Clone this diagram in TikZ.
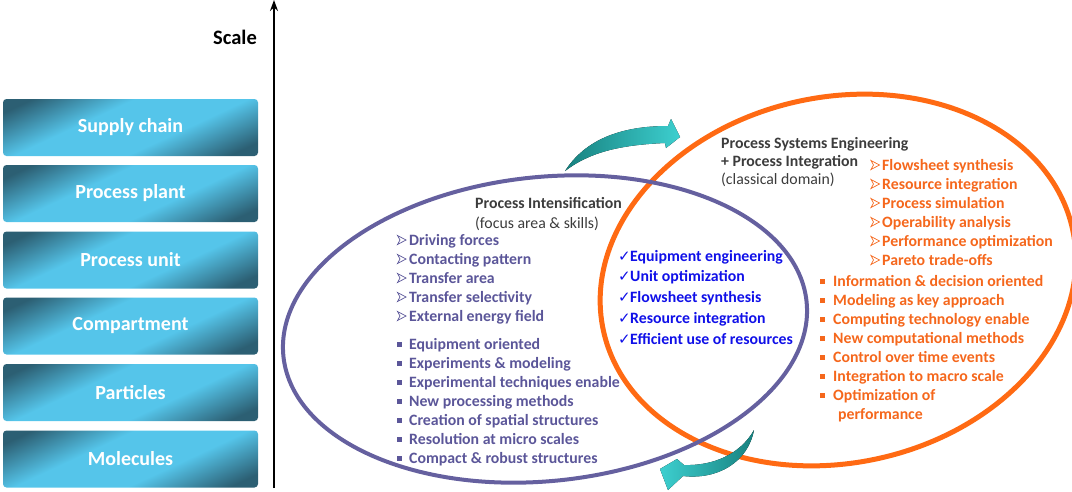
\documentclass[tikz,border=0pt]{standalone}
\usepackage{fontspec}
\setmainfont{Carlito}
\newfontfamily\symf{DejaVu Sans}
\usetikzlibrary{arrows.meta}
\definecolor{boxdark}{HTML}{2C5F73}
\definecolor{boxlight}{HTML}{55C5EA}
\definecolor{purp}{HTML}{65609F}
\definecolor{purptext}{HTML}{5B5699}
\definecolor{orng}{HTML}{FF6A13}
\definecolor{orngtext}{HTML}{F5671C}
\definecolor{bluetext}{HTML}{1010E8}
\definecolor{titlegray}{HTML}{3C3C3C}
\definecolor{tealdark}{HTML}{17817F}
\definecolor{teallight}{HTML}{3DCFCF}
\pgfdeclareverticalshading{boxsh}{100bp}{color(0bp)=(boxdark); color(22bp)=(boxdark); color(40bp)=(boxlight); color(60bp)=(boxlight); color(78bp)=(boxdark); color(100bp)=(boxdark)}
\newcommand\chkbul{\makebox[12pt][l]{\symf\fontsize{15}{15}\selectfont ✓}}
\newcommand\sqbul[1]{\makebox[#1][l]{\raisebox{2.5pt}{\rule{4.5pt}{4.5pt}}}}
\begin{document}
\begin{tikzpicture}[x=1pt,y=-1pt,
  scalebox/.style={rounded corners=3.5pt, shading=boxsh, shading angle=25,
    minimum width=255pt, minimum height=57pt, inner sep=0pt, text=white,
    font=\fontsize{20}{24}\selectfont\bfseries},
  itemtxt/.style={anchor=base west, inner sep=0pt, font=\fontsize{15.8}{19}\selectfont\bfseries},
  purpitem/.style={itemtxt, text=purptext},
  blueitem/.style={itemtxt, text=bluetext},
  orngitem/.style={itemtxt, text=orngtext},
  arrowbullet/.style={line width=0.7pt, line join=miter},
  titletxt/.style={anchor=base west, inner sep=0pt, text=titlegray, font=\fontsize{15.8}{19}\selectfont\bfseries},
  subtxt/.style={anchor=base west, inner sep=0pt, text=titlegray, font=\fontsize{15.8}{19}\selectfont},
  teal arrow/.style={draw=none}
]
\useasboundingbox (0,0) rectangle (1072,491);

% scale boxes
\node[scalebox] (b1) at (130.5,127.5) {Supply chain};
\node[scalebox] (b2) at (130.5,193.5) {Process plant};
\node[scalebox] (b3) at (130.5,260) {Process unit};
\node[scalebox] (b4) at (130.5,326) {Compartment};
\node[scalebox] (b5) at (130.5,392.5) {Particles};
\node[scalebox] (b6) at (130.5,459) {Molecules};

% scale axis
\coordinate (axbot) at (274,488);
\coordinate (axtop) at (274,0);
\draw[line width=1.6pt, -{Stealth[length=11pt,width=8pt]}] (axbot) -- (axtop);
\node[anchor=base east, inner sep=0pt, font=\fontsize{20.5}{24}\selectfont\bfseries] (scale) at (257,44) {Scale};

% ellipses
\draw[orng, line width=5pt] (838,280) ellipse [x radius=240, y radius=183, rotate=12];
\draw[purp, line width=4pt] (545,329) ellipse [x radius=263, y radius=152, rotate=6];

% curved arrows
\fill[teal arrow, left color=tealdark, right color=teallight]
  (565,171) .. controls (585,140) and (620,126) .. (668,126)
  -- (671,119) -- (680,137) -- (666,148) -- (665,143)
  .. controls (620,145) and (590,152) .. (565,171) -- cycle;
\fill[teal arrow, left color=teallight, right color=tealdark]
  (754,430) .. controls (740,455) and (712,466) .. (684,465)
  -- (677,459) -- (660,469) -- (668,490) -- (683,476)
  .. controls (718,480) and (748,462) .. (754,430) -- cycle;

% Process intensification
\node[titletxt] (pit) at (475,208) {Process Intensification};
\node[subtxt] (pis) at (475,228) {(focus area \& skills)};
\foreach \t [count=\i from 0] in {Driving forces, Contacting pattern, Transfer area, Transfer selectivity, External energy field}{
  \node[purpitem] (pa\i) at (409,245+19*\i) {\t};
  \draw[arrowbullet, purptext] (397.5,240+19*\i) ++(0,-4.5) -- ++(8.5,4.5) -- ++(-8.5,4.5) -- ++(2.5,-4.5) -- cycle;
}
\foreach \t [count=\i from 0] in {Equipment oriented, Experiments \& modeling, Experimental techniques enable, New processing methods, Creation of spatial structures, Resolution at micro scales, Compact \& robust structures}
  \node[purpitem] (pb\i) at (397,349+19*\i) {\sqbul{12pt}\t};

% common
\foreach \t [count=\i from 0] in {Equipment engineering, Unit optimization, Flowsheet synthesis, Resource integration, Efficient use of resources}
  \node[blueitem] (ca\i) at (618,261+20.75*\i) {\chkbul\t};

% PSE
\node[titletxt] (pst1) at (721,148) {Process Systems Engineering};
\node[titletxt] (pst2) at (721,166) {+ Process Integration};
\node[subtxt] (pss) at (721,184) {(classical domain)};
\foreach \t [count=\i from 0] in {Flowsheet synthesis, Resource integration, Process simulation, Operability analysis, Performance optimization, Pareto trade-offs}{
  \node[orngitem] (oa\i) at (882,170+19*\i) {\t};
  \draw[arrowbullet, orngtext] (871,165+19*\i) ++(0,-4.5) -- ++(8.5,4.5) -- ++(-8.5,4.5) -- ++(2.5,-4.5) -- cycle;
}
\foreach \t [count=\i from 0] in {Information \& decision oriented, Modeling as key approach, Computing technology enable, New computational methods, Control over time events, Integration to macro scale, Optimization of}
  \node[orngitem] (ob\i) at (820,286+19*\i) {\sqbul{13pt}\t};
\node[orngitem] (ob7) at (838,419) {performance};
\end{tikzpicture}
\end{document}
